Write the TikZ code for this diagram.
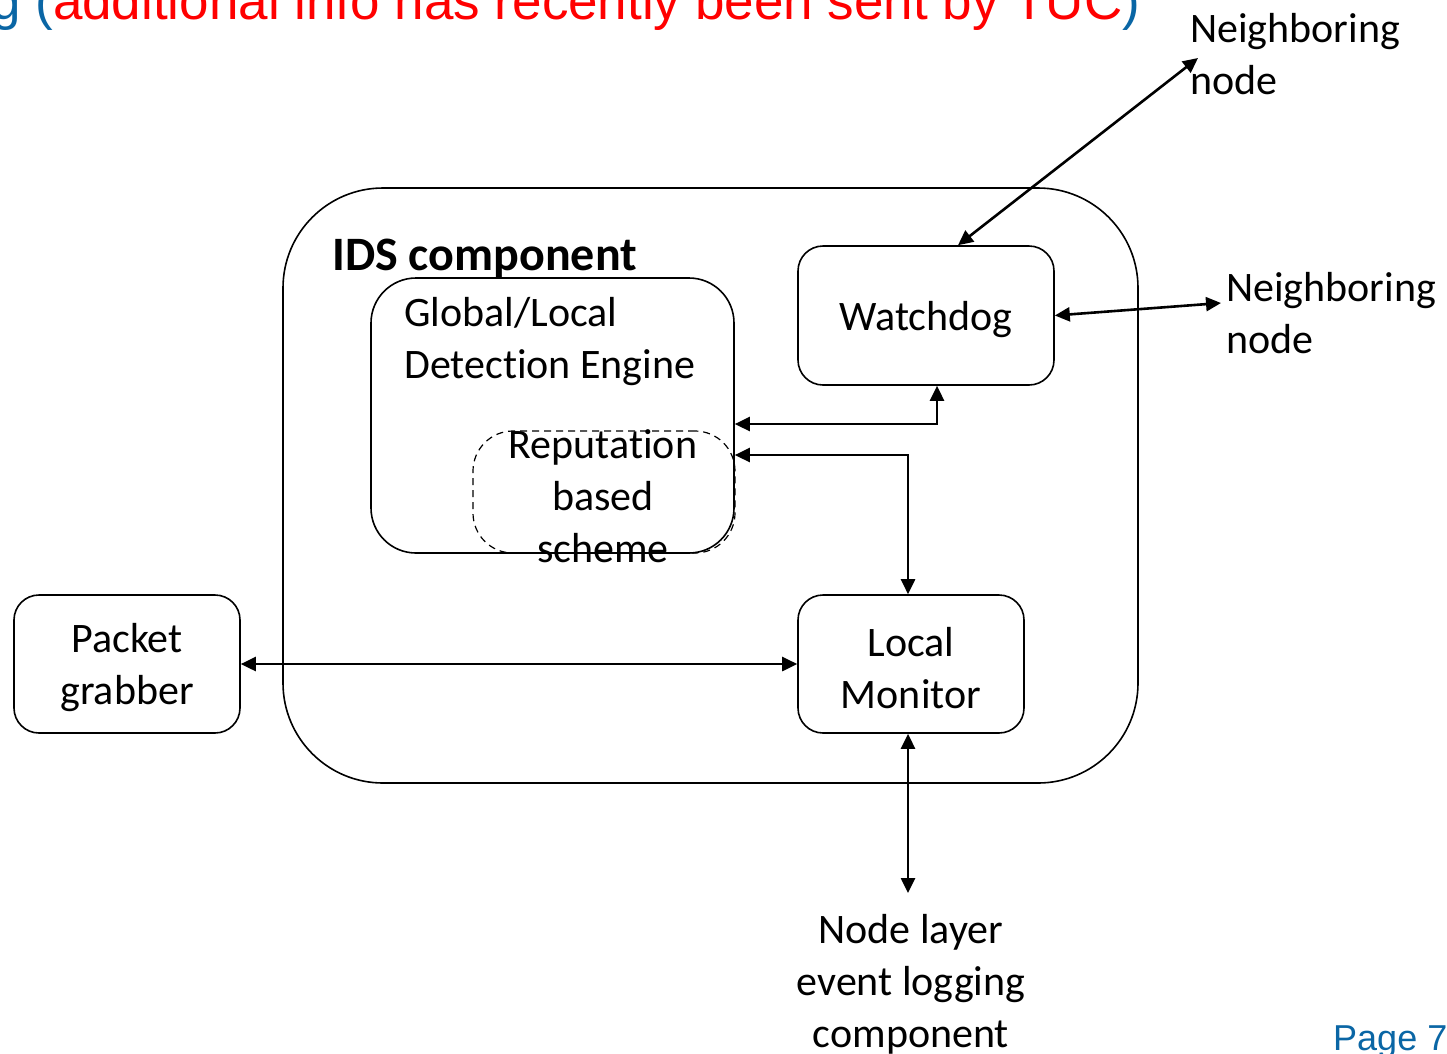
\documentclass[tikz,border=0pt]{standalone}
\usepackage{fontspec}
\setmainfont{Carlito}[Ligatures=NoCommon]
\newfontfamily\arialf{Liberation Sans}
\usetikzlibrary{arrows.meta}
\definecolor{titleblue}{RGB}{10,102,165}
\definecolor{titlered}{RGB}{255,0,0}
\begin{document}
\begin{tikzpicture}[x=1pt,y=-1pt,
  box/.style={draw,line width=1.6pt,inner sep=0pt},
  txt/.style={font=\fontsize{42}{52}\selectfont,align=center,inner sep=0pt},
  link/.style={line width=2.6pt,{Triangle[length=15pt,width=14pt]}-{Triangle[length=15pt,width=14pt]}}]
\useasboundingbox (0,0) rectangle (1447,1053);
\fill[white] (0,0) rectangle (1447,1053);
% title fragment
\node[anchor=base west,inner sep=0pt,font=\arialf\fontsize{53}{60}\selectfont] (title) at (-9,19)
  {\textcolor{titleblue}{g (}\textcolor{titlered}{additional info has recently been sent by TUC}\textcolor{titleblue}{)}};
\node[anchor=base west,inner sep=0pt,font=\arialf\fontsize{36}{40}\selectfont,text=titleblue] (page) at (1333,1050) {Page 7};
% boxes
\node[box,rounded corners=100pt,minimum width=855pt,minimum height=595pt] (ids) at (710.5,485.5) {};
\node[anchor=west,inner sep=0pt,font=\bfseries\fontsize{48}{52}\selectfont] (idst) at (332,259) {IDS component};
\node[box,rounded corners=45pt,minimum width=363pt,minimum height=275pt] (gle) at (552.5,415.5) {};
\node[txt,align=left,anchor=west] (glet) at (404,342) {Global/Local\\Detection Engine};
\node[box,dashed,line width=1.2pt,dash pattern=on 7pt off 5pt,rounded corners=40pt,minimum width=262pt,minimum height=122pt] (rep) at (604,492) {};
\node[txt] (rept) at (603,496) {Reputation\\based\\scheme};
\node[box,rounded corners=25pt,minimum width=256pt,minimum height=139pt] (wd) at (926,315.5) {};
\node[txt] (wdt) at (926,320) {Watchdog};
\node[box,rounded corners=25pt,minimum width=226pt,minimum height=138pt] (lm) at (911,664) {};
\node[txt] (lmt) at (911,668) {Local\\Monitor};
\node[box,rounded corners=25pt,minimum width=226pt,minimum height=138pt] (pg) at (127,664) {};
\node[txt] (pgt) at (127,668) {Packet\\grabber};
% outside labels
\node[txt,align=left,anchor=west] (nb1) at (1190,54) {Neighboring\\node};
\node[txt,align=left,anchor=west] (nb2) at (1226,313) {Neighboring\\node};
\node[txt] (log) at (911,984) {Node layer\\event logging\\component};
\coordinate (nb1tip) at (1198,58);
\coordinate (nb2tip) at (1221,303);
\coordinate (logtip) at (908,893);
% connectors
\draw[link] ([xshift=32pt]wd.north) -- (nb1tip);
\draw[link] (wd.east) -- (nb2tip);
\draw[link] ([yshift=-8.5pt]gle.east) -| ([xshift=11pt]wd.south);
\draw[link] ([yshift=-39.5pt]gle.east) -| ([xshift=-3pt]lm.north);
\draw[link] (pg.east) -- (lm.west);
\draw[link] ([xshift=-3pt]lm.south) -- (logtip);
\end{tikzpicture}
\end{document}
